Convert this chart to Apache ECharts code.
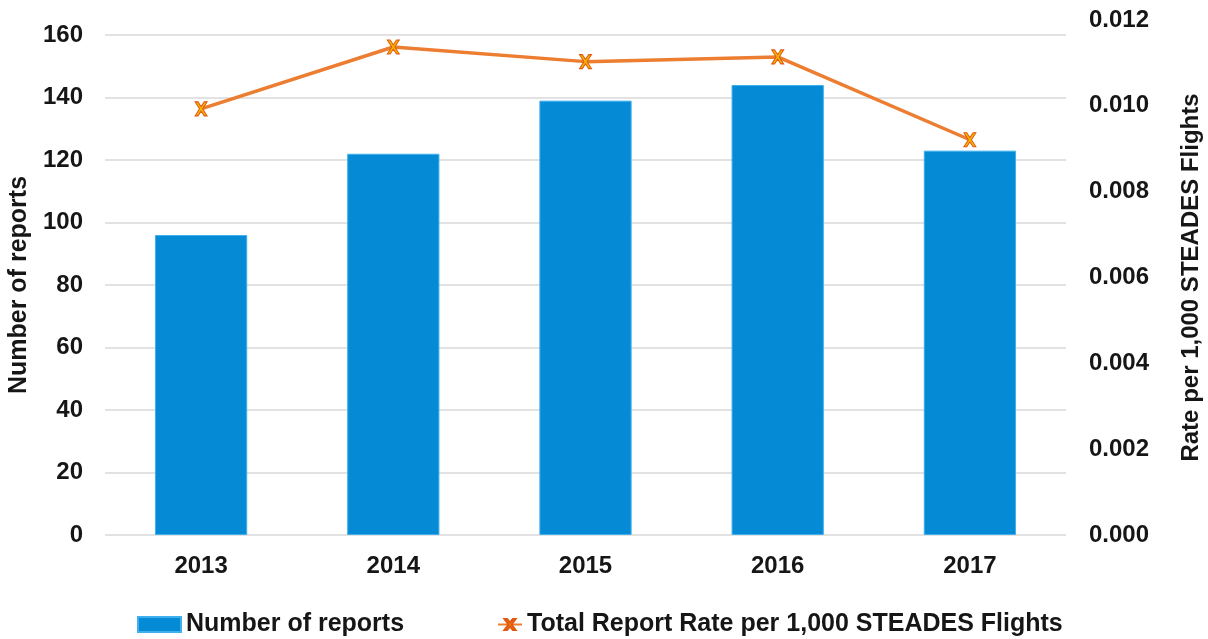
<!DOCTYPE html>
<html>
<head>
<meta charset="utf-8">
<script src="https://cdn.jsdelivr.net/npm/echarts@6/dist/echarts.min.js"></script>
<style>
  html, body { margin: 0; padding: 0; background: #fff; }
  #chart { width: 1208px; height: 639px; }
</style>
</head>
<body>
<div id="chart"></div>
<script>
// data
const years = ['2013', '2014', '2015', '2016', '2017']
const reportCounts = [96, 122, 139, 144, 123]
const reportRates = [0.00993, 0.01137, 0.01103, 0.01114, 0.00921]
const leftTicks = [0, 20, 40, 60, 80, 100, 120, 140, 160]
const rightTicks = [0, 0.002, 0.004, 0.006, 0.008, 0.010, 0.012]

const barName = 'Number of reports'
const lineName = 'Total Report Rate per 1,000 STEADES Flights'

const font = '"Liberation Sans", Arial, sans-serif'
const xMark = 'path://M0,0 L2.4,0 L5,3.4 L7.6,0 L10,0 L6.3,5 L10,10 L7.6,10 L5,6.6 L2.4,10 L0,10 L3.7,5 Z'

const chart = echarts.init(document.getElementById('chart'), null, { renderer: 'canvas' })

const labelStyle = { fontFamily: font, fontWeight: 'bold', fontSize: 24, color: '#161616' }
const legendText = { fontFamily: font, fontWeight: 'bold', fontSize: 25, color: '#161616' }

const option = {
  animation: false,
  grid: [
    { left: 105, right: 142, top: 35, bottom: 104, outerBoundsMode: 'none' },
    { left: 105, right: 142, top: 20, bottom: 104, outerBoundsMode: 'none' }
  ],
  legend: [
    {
      data: [{ name: barName, icon: 'rect' }],
      left: 132, top: 607,
      itemWidth: 43, itemHeight: 15, itemGap: 3,
      textStyle: legendText
    },
    {
      data: [lineName],
      left: 492, top: 607,
      itemWidth: 24, itemHeight: 14, itemGap: 2,
      textStyle: legendText
    }
  ],
  xAxis: [
    {
      type: 'category', gridIndex: 0, data: years,
      axisLine: { show: false }, axisTick: { show: false },
      axisLabel: Object.assign({ margin: 19 }, labelStyle)
    },
    {
      type: 'category', gridIndex: 1, data: years, show: false
    }
  ],
  yAxis: [
    {
      type: 'value', gridIndex: 0,
      min: leftTicks[0], max: leftTicks[leftTicks.length - 1], interval: 20,
      name: barName, nameLocation: 'middle', nameGap: 66,
      nameTextStyle: { fontFamily: font, fontWeight: 'bold', fontSize: 25, color: '#161616' },
      axisLine: { show: false }, axisTick: { show: false },
      axisLabel: Object.assign({ margin: 22 }, labelStyle),
      splitLine: { lineStyle: { color: '#d9d9d9', width: 1.5 } }
    },
    {
      type: 'value', gridIndex: 1, position: 'right',
      min: rightTicks[0], max: rightTicks[rightTicks.length - 1], interval: 0.002,
      name: 'Rate per 1,000 STEADES Flights', nameLocation: 'middle', nameGap: 113,
      nameTextStyle: { fontFamily: font, fontWeight: 'bold', fontSize: 24, color: '#161616' },
      axisLine: { show: false }, axisTick: { show: false },
      axisLabel: Object.assign({ margin: 23, formatter: v => v.toFixed(3) }, labelStyle),
      splitLine: { show: false }
    }
  ],
  series: [
    {
      name: barName, type: 'bar',
      xAxisIndex: 0, yAxisIndex: 0,
      data: reportCounts,
      barWidth: '48%',
      itemStyle: { color: '#058BD6', borderColor: '#3fb0ee', borderWidth: 1 }
    },
    {
      name: lineName, type: 'line',
      xAxisIndex: 1, yAxisIndex: 1,
      data: reportRates,
      symbol: xMark, symbolSize: [12, 14],
      lineStyle: { color: '#EC7D31', width: 3.5 },
      itemStyle: { color: '#F5B400', borderColor: '#E2570F', borderWidth: 1 },
      z: 5
    }
  ]
}

chart.setOption(option)
</script>
</body>
</html>
